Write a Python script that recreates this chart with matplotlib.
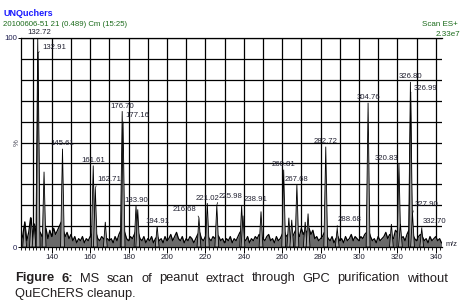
import matplotlib
matplotlib.use("Agg")
import matplotlib.pyplot as plt
import numpy as np

FONT = "Liberation Sans"

# ---- data ----
# baseline trace, one reading per m/z unit (124 .. 343)
noise_mz = np.arange(124, 344)
noise_pct = [
    2, 6, 12, 3, 7, 14, 5, 11,
    6, 8, 7, 5, 6, 9,
    4, 8, 5, 9, 6, 8, 10, 12, 8, 5, 7, 4, 6,
    3, 5, 2, 4, 3, 5, 2, 4, 3, 5,
    6, 8, 7, 4, 3, 5, 4, 3, 4, 3,
    4, 2, 5, 3, 6, 8, 10, 7, 4, 3,
    5, 4, 6, 8, 7, 4, 3, 5, 2, 4,
    3, 5, 2, 4, 5, 3, 4, 2, 5, 3,
    4, 6, 3, 5, 7, 4, 3, 5, 2, 4,
    3, 5, 4, 2, 4, 6, 7, 4, 3, 5,
    6, 4, 3, 5, 4, 6, 5, 3, 4, 2,
    4, 3, 5, 2, 4, 3, 5, 7, 8, 4,
    3, 5, 2, 4, 3, 5, 4, 6, 5, 4,
    3, 5, 6, 3, 4, 2, 5, 3, 4, 6,
    8, 5, 6, 5, 4, 6, 8, 7, 5, 9,
    6, 8, 7, 9, 6, 8, 4, 5, 3, 4,
    5, 7, 6, 4, 3, 5, 2, 4, 5, 3,
    4, 2, 5, 3, 4, 6, 3, 5, 4, 3,
    5, 4, 6, 7, 8, 5, 3, 4, 2, 5,
    3, 4, 5, 7, 4, 6, 5, 4, 8, 7,
    6, 4, 5, 3, 6, 8, 7, 6, 4, 3,
    5, 6, 5, 3, 4, 2, 5, 3, 4, 5, 3, 4, 2,
]

# peaks (m/z, relative intensity %)
peak_mz = [125.9, 129.4, 130.8, 132.72, 132.91, 136.0, 145.61, 161.61, 162.71,
           167.9, 176.70, 177.16, 183.90, 184.8, 194.91, 216.68, 221.02, 225.98,
           238.91, 239.6, 249.0, 260.81, 263.5, 265.0, 267.68, 272.0, 273.5,
           282.72, 288.68, 304.76, 316.9, 320.83, 321.6, 326.80, 326.99, 327.90,
           332.70]
peak_pct = [12, 14, 11, 100, 93, 36, 47, 39, 28,
            12, 65, 59, 20, 18, 10, 14, 21, 20,
            20, 15, 17, 37, 14, 13, 30, 12, 16,
            48, 9, 69, 11, 40, 11, 79, 74, 16,
            9]

label_mz = [132.72, 132.91, 145.61, 161.61, 162.71, 176.70, 177.16, 183.90,
            194.91, 216.68, 221.02, 225.98, 238.91, 260.81, 267.68, 282.72,
            288.68, 304.76, 320.83, 326.80, 326.99, 327.90, 332.70]

x_ticks = list(range(140, 341, 20))

# label placement (offset in pixels, alignment, leader line)
label_style = {
    132.72: (2, 5, "center", False),
    132.91: (4, 5, "left", True),
    162.71: (2, 9, "left", True),
    177.16: (2, 8, "left", True),
    216.68: (-3, 8, "right", True),
    225.98: (2, 9, "left", True),
    238.91: (2, 6, "left", False),
    288.68: (0, 9, "left", True),
    320.83: (-1, 5, "right", False),
    326.99: (3, 4, "left", True),
    327.90: (2, 9, "left", True),
    332.70: (1, 7, "left", True),
}

W, H = 466, 302
fig = plt.figure(figsize=(W / 100, H / 100), dpi=100)
ax = fig.add_axes([21 / W, (H - 247) / H, (441.7 - 21) / W, (247 - 38) / H])

ax.set_xlim(124.0, 343.1)
ax.set_ylim(0, 100)

# grid
for y in range(10, 101, 10):
    ax.axhline(y, color="black", lw=0.9, zorder=1)
for x in range(130, 341, 10):
    ax.axvline(x, color="black", lw=0.9, zorder=1)

# spectrum
ax.fill_between(noise_mz, 0, noise_pct, color="#6a6a6a", lw=0, zorder=2)
ax.plot(noise_mz, noise_pct, color="black", lw=0.9, zorder=3)
w = 1.0
for m, p in zip(peak_mz, peak_pct):
    ax.fill([m - w, m, m + w], [0, p, 0], facecolor="#a0a0a0",
            edgecolor="black", lw=0.6, zorder=4)

# peak labels
lab_color = "#202030"
for m in label_mz:
    p = peak_pct[peak_mz.index(m)]
    dx, dy, ha, leader = label_style.get(m, (0, 5, "center", False))
    kw = {}
    if leader:
        rel = (0, 0.2) if ha == "left" else (1, 0.2)
        kw["arrowprops"] = dict(arrowstyle="-", lw=0.5, color="black",
                                shrinkA=0, shrinkB=0, relpos=rel)
    ax.annotate(f"{m:.2f}", xy=(m, p), xytext=(dx, dy),
                textcoords="offset pixels", ha=ha, va="center",
                fontsize=5.6, family=FONT, color=lab_color,
                annotation_clip=False, zorder=6, **kw)

# axes styling
ax.spines["right"].set_visible(False)
for s in ["left", "bottom", "top"]:
    ax.spines[s].set_linewidth(0.9)
    ax.spines[s].set_color("black")

ax.set_yticks([0, 100])
ax.set_yticklabels(["0", "100"], fontsize=5.6, family=FONT, color="#202050")
ax.tick_params(axis="y", length=2, width=0.7, pad=1)

ax.set_xticks(x_ticks)
ax.set_xticklabels([str(t) for t in x_ticks], fontsize=5.6, family=FONT,
                   color="#202030")
ax.set_xticks(np.arange(124, 344, 2), minor=True)
ax.tick_params(axis="x", which="major", length=4, width=0.7, pad=1)
ax.tick_params(axis="x", which="minor", length=2, width=0.6)

fig.text(17 / W, 1 - 143 / H, "%", rotation=90, ha="center", va="center",
         fontsize=5.6, family=FONT, color="#404050")
fig.text(446 / W, 1 - 245 / H, "m/z", ha="left", va="center",
         fontsize=5.4, family=FONT, color="#202030")

# header texts
fig.text(3 / W, 1 - 14 / H, "UNQuchers", ha="left", va="center",
         fontsize=6.5, family=FONT, weight="bold", color="#1a1aff")
fig.text(3 / W, 1 - 25 / H, "20100606-51 21 (0.489) Cm (15:25)", ha="left",
         va="center", fontsize=5.6, family=FONT, color="#1b6b1b")
fig.text(458 / W, 1 - 25 / H, "Scan ES+", ha="right", va="center",
         fontsize=5.8, family=FONT, color="#1b6b1b")
fig.text(460 / W, 1 - 35 / H, "2.33e7", ha="right", va="center",
         fontsize=5.8, family=FONT, color="#1b6b1b")

# caption, first line justified
cap_color = "#231f20"
line1 = [("Figure", "bold"), ("6:", "bold"), ("MS", "normal"), ("scan", "normal"),
         ("of", "normal"), ("peanut", "normal"), ("extract", "normal"),
         ("through", "normal"), ("GPC", "normal"), ("purification", "normal"),
         ("without", "normal")]
x0, x1 = 15, 448
fig.canvas.draw()
renderer = fig.canvas.get_renderer()
texts = []
for word, wt in line1:
    t = fig.text(0, 1 - 281.5 / H, word, ha="left", va="baseline",
                 fontsize=9.3, family=FONT, weight=wt, color=cap_color)
    texts.append(t)
widths = [t.get_window_extent(renderer).width for t in texts]
gap = (x1 - x0 - sum(widths)) / (len(texts) - 1)
pos = x0
for t, wd in zip(texts, widths):
    t.set_x(pos / W)
    pos += wd + gap
fig.text(x0 / W, 1 - 296.5 / H, "QuEChERS cleanup.", ha="left", va="baseline",
         fontsize=9.3, family=FONT, color=cap_color)

fig.savefig("out.png", dpi=100)
